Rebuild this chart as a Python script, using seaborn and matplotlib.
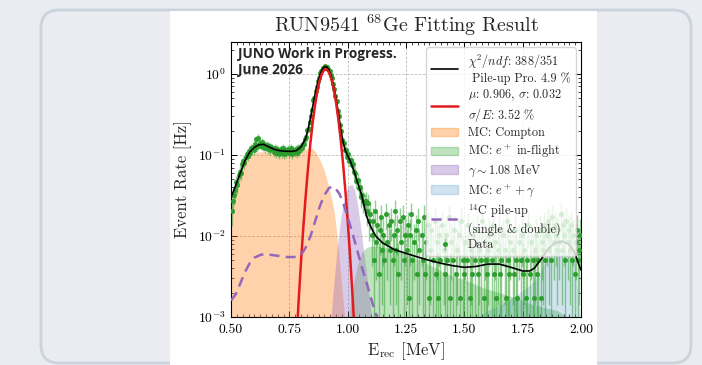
import numpy as np
import matplotlib
matplotlib.use("Agg")
import matplotlib.pyplot as plt
import seaborn as sns
from matplotlib.patches import FancyBboxPatch, Rectangle, Patch
from matplotlib.ticker import AutoMinorLocator, FormatStrFormatter, LogLocator, NullFormatter
from matplotlib.transforms import IdentityTransform

sns.set_theme(style="ticks")
plt.rcParams.update({
    "font.family": "serif",
    "font.serif": ["cmr10"],
    "mathtext.fontset": "cm",
    "axes.formatter.use_mathtext": True,
    "axes.unicode_minus": False,
})

# ---- data: histogram of E_rec (0.5 - 2.0 MeV, 300 bins of 5 keV) ----
bin_lo = 0.5
bin_width = 0.005
count_unit = 0.0017      # Hz per count
bkg_counts = 6           # subtracted background, enters the errors

data_counts = [
    12, 16, 19, 22, 27, 25, 33, 36, 35, 45,
    49, 47, 56, 60, 57, 66, 62, 72, 74, 68,
    80, 92, 73, 96, 82, 76, 85, 74, 80, 71,
    79, 70, 76, 67, 74, 72, 64, 71, 62, 70,
    66, 61, 69, 63, 72, 60, 67, 63, 70, 62,
    66, 71, 60, 68, 64, 69, 63, 71, 66, 74,
    72, 81, 80, 93, 98, 118, 124, 152, 176, 214,
    280, 300, 358, 405, 475, 522, 596, 632, 690, 705,
    735, 722, 718, 670, 648, 575, 524, 446, 388, 318,
    270, 208, 180, 138, 115, 90, 83, 68, 67, 56,
    60, 50, 51, 44, 45, 36, 35, 28, 29, 23,
    24, 18, 19, 16, 15, 16, 12, 15, 9, 11,
    6, 9, 3, 12, 5, 8, 2, 7, 10, 4,
    6, 3, 11, 5, 0, 8, 4, 9, 3, 6,
    12, 4, 7, 2, 9, 5, 0, 10, 3, 6,
    4, 8, 1, 6, 11, 3, 5, 0, 7, 2,
    9, 4, 0, 6, 3, 10, 2, 5, 8, 1,
    4, 7, 0, 3, 9, 2, 5, 1, 6, 3,
    8, 0, 4, 2, 6, 3, 10, 1, 5, 0,
    3, 7, 2, 4, 0, 6, 1, 9, 3, 2,
    5, 0, 3, 8, 1, 4, 2, 6, 0, 3,
    7, 2, 4, 0, 3, 9, 1, 5, 3, 2,
    4, 6, 0, 3, 8, 2, 5, 1, 4, 7,
    2, 3, 0, 6, 4, 1, 9, 3, 2, 5,
    0, 4, 2, 7, 3, 1, 5, 0, 3, 6,
    2, 4, 1, 3, 8, 0, 2, 5, 3, 1,
    4, 6, 2, 3, 7, 1, 5, 4, 8, 3,
    6, 9, 4, 7, 3, 10, 5, 8, 6, 4,
    7, 5, 11, 4, 8, 6, 3, 9, 5, 7,
    4, 8, 3, 6, 2, 5, 7, 3, 4, 6,
]

# ---- fit curves (E in MeV, rate in Hz) ----
total_E = [0.50, 0.52, 0.54, 0.56, 0.58, 0.60, 0.62, 0.64, 0.66, 0.68, 0.70, 0.72,
           0.74, 0.76, 0.78, 0.80, 0.82, 0.83, 0.84, 0.85, 0.86, 0.87, 0.88, 0.89,
           0.90, 0.91, 0.92, 0.93, 0.94, 0.95, 0.96, 0.97, 0.98, 0.99, 1.00, 1.01,
           1.02, 1.03, 1.04, 1.05, 1.06, 1.07, 1.08, 1.09, 1.10, 1.12, 1.15, 1.20,
           1.25, 1.30, 1.35, 1.40, 1.45, 1.50, 1.55, 1.60, 1.65, 1.70, 1.75, 1.78,
           1.80, 1.83, 1.86, 1.89, 1.92, 1.95, 1.97, 1.99, 2.00]
total_rate = [0.030, 0.042, 0.060, 0.085, 0.108, 0.124, 0.134, 0.135, 0.127, 0.119, 0.114, 0.112,
              0.111, 0.111, 0.113, 0.126, 0.160, 0.206, 0.280, 0.394, 0.555, 0.745, 0.957, 1.13,
              1.23, 1.225, 1.12, 0.933, 0.71, 0.50, 0.33, 0.21, 0.145, 0.113, 0.098, 0.086,
              0.072, 0.060, 0.048, 0.039, 0.032, 0.024, 0.018, 0.0150, 0.0128, 0.0100, 0.0082, 0.0068,
              0.0061, 0.0055, 0.0050, 0.0046, 0.0043, 0.0041, 0.0042, 0.0045, 0.0045, 0.0041, 0.0037, 0.0037,
              0.0040, 0.0052, 0.0070, 0.0082, 0.0086, 0.0078, 0.0065, 0.0045, 0.0038]

peak_E = [0.78, 0.79, 0.80, 0.81, 0.82, 0.83, 0.84, 0.85, 0.86, 0.87, 0.88, 0.89, 0.90,
          0.91, 0.92, 0.93, 0.94, 0.95, 0.96, 0.97, 0.98, 0.99, 1.00, 1.01, 1.02, 1.03]
peak_rate = [0.00049, 0.0016, 0.0048, 0.0128, 0.031, 0.0686, 0.137, 0.249, 0.41, 0.61, 0.83, 1.015, 1.13,
             1.14, 1.045, 0.868, 0.654, 0.447, 0.277, 0.156, 0.0795, 0.0367, 0.0154, 0.0059, 0.0020, 0.00063]

compton_E = [0.50, 0.52, 0.54, 0.56, 0.58, 0.60, 0.63, 0.66, 0.70, 0.74, 0.78, 0.81, 0.83,
             0.845, 0.86, 0.88, 0.90, 0.92, 0.94, 0.95, 0.96, 0.97, 0.98, 0.99, 1.00]
compton_rate = [0.030, 0.045, 0.065, 0.085, 0.098, 0.106, 0.110, 0.108, 0.105, 0.105, 0.108, 0.115, 0.121,
                0.122, 0.112, 0.088, 0.064, 0.040, 0.022, 0.013, 0.0068, 0.0033, 0.0016, 0.0008, 0.0004]

inflight_E = [1.00, 1.02, 1.04, 1.06, 1.08, 1.10, 1.15, 1.20, 1.25, 1.30, 1.35, 1.40, 1.45,
              1.50, 1.55, 1.60, 1.65, 1.70, 1.75, 1.80, 1.85, 1.90, 1.94, 1.97, 2.00]
inflight_rate = [0.0008, 0.0022, 0.0042, 0.0062, 0.0072, 0.0075, 0.0074, 0.0068, 0.0060, 0.0052, 0.0044, 0.0037, 0.0032,
                 0.0029, 0.0025, 0.0022, 0.0020, 0.0018, 0.0016, 0.0014, 0.0013, 0.0012, 0.0010, 0.0008, 0.0006]

gamma_E = [0.925, 0.93, 0.94, 0.95, 0.96, 0.97, 0.98, 0.99, 1.00, 1.01, 1.02, 1.03, 1.04,
           1.05, 1.06, 1.07, 1.08, 1.09, 1.10, 1.11]
gamma_rate = [0.0008, 0.0011, 0.0024, 0.0050, 0.0095, 0.016, 0.024, 0.032, 0.039, 0.043, 0.043, 0.037, 0.027,
              0.017, 0.0102, 0.0060, 0.0036, 0.0020, 0.0012, 0.0007]

epgamma_E = [1.54, 1.56, 1.60, 1.65, 1.70, 1.75, 1.78, 1.80, 1.82, 1.84, 1.86, 1.88, 1.92,
             1.95, 1.97, 1.98, 1.99, 2.00]
epgamma_rate = [0.0008, 0.0010, 0.0012, 0.0014, 0.0017, 0.0021, 0.0025, 0.0028, 0.0034, 0.0045, 0.0058, 0.0064, 0.0065,
                0.0064, 0.0050, 0.0032, 0.0016, 0.0008]

pileup_E = [0.50, 0.52, 0.54, 0.56, 0.58, 0.60, 0.63, 0.66, 0.70, 0.74, 0.78, 0.80, 0.82,
            0.84, 0.86, 0.88, 0.90, 0.92, 0.935, 0.95, 0.965, 0.98, 1.00, 1.02, 1.04, 1.06,
            1.08, 1.10, 1.12, 1.14]
pileup_rate = [0.0016, 0.0019, 0.0026, 0.0036, 0.0046, 0.0054, 0.0059, 0.0059, 0.0057, 0.0055, 0.0055, 0.0058, 0.0072,
               0.0098, 0.0150, 0.023, 0.032, 0.039, 0.041, 0.038, 0.033, 0.026, 0.017, 0.011, 0.0068, 0.0042,
               0.0027, 0.0017, 0.0011, 0.0007]

x_ticks = [0.50, 0.75, 1.00, 1.25, 1.50, 1.75, 2.00]

# ---- derived data table ----
counts = np.array(data_counts, dtype=float)
centers = bin_lo + bin_width * (np.arange(len(counts)) + 0.5)
rate = np.where(counts > 0, counts * count_unit, np.nan)
rate_err = np.sqrt(counts + bkg_counts) * count_unit

# ---- figure + page decoration ----
fig = plt.figure(figsize=(7.02, 3.65), dpi=100, facecolor="#e9ecf1")
card = FancyBboxPatch((41, 2), 650, 353, boxstyle="round,pad=0,rounding_size=18",
                      transform=IdentityTransform(), facecolor="#eaecf1",
                      edgecolor="#cbd3dc", linewidth=2.0, zorder=-3)
fig.patches.append(card)
panel = Rectangle((170, 0), 427, 354, transform=IdentityTransform(),
                  facecolor="white", edgecolor="none", zorder=-2)
fig.patches.append(panel)

ax = fig.add_axes([231 / 702, 48 / 365, 350 / 702, 275.3 / 365])
ax.set_yscale("log")

low = 1e-4
ax.fill_between(compton_E, low, compton_rate, color="#ff7f0e", alpha=0.35, lw=0, zorder=1)
ax.fill_between(inflight_E, low, inflight_rate, color="#2ca02c", alpha=0.3, lw=0, zorder=1)
ax.fill_between(gamma_E, low, gamma_rate, color="#9467bd", alpha=0.35, lw=0, zorder=1)
ax.fill_between(epgamma_E, low, epgamma_rate, color="#1f77b4", alpha=0.2, lw=0, zorder=1)

data_h = ax.errorbar(centers, rate, yerr=rate_err, fmt="o", ms=3.3, color="#2ca02c",
                     mec="#27952a", mew=0.3, ecolor=(0.17, 0.63, 0.17, 0.5),
                     elinewidth=1.0, zorder=3)
total_h, = ax.plot(total_E, total_rate, color="black", lw=1.2, zorder=4)
peak_h, = ax.plot(peak_E, peak_rate, color="#e41a1c", lw=1.8, zorder=4)
pileup_h, = ax.plot(pileup_E, pileup_rate, color="#9467bd", lw=1.8, ls=(0, (4, 2.5)), zorder=4)

ax.set_xlim(0.5, 2.0)
ax.set_ylim(1e-3, 2.5)
ax.set_xticks(x_ticks)
ax.xaxis.set_major_formatter(FormatStrFormatter("%.2f"))
ax.xaxis.set_minor_locator(AutoMinorLocator(10))
ax.yaxis.set_major_locator(LogLocator(base=10, numticks=10))
ax.yaxis.set_minor_locator(LogLocator(base=10, subs=np.arange(2, 10), numticks=10))
ax.yaxis.set_minor_formatter(NullFormatter())
ax.tick_params(which="both", direction="in", top=True, right=True, labelsize=9.8, colors="black")
ax.tick_params(which="major", length=4, width=0.7)
ax.tick_params(which="minor", length=2, width=0.5)
ax.tick_params(axis="x", pad=5)
ax.tick_params(axis="y", pad=4)
ax.grid(True, which="major", color="#b8b8b8", ls=(0, (3, 2)), lw=0.6)
for s in ax.spines.values():
    s.set_linewidth(0.8)
    s.set_color("black")

ax.set_title(r"RUN9541 $^{68}$Ge Fitting Result", fontsize=14.5, pad=7)
ax.set_xlabel(r"E$_{\rm rec}$ [MeV]", fontsize=12, labelpad=3)
ax.set_ylabel("Event Rate [Hz]", fontsize=12, labelpad=4)

ax.text(0.02, 0.98, "JUNO Work in Progress.\nJune 2026", transform=ax.transAxes,
        ha="left", va="top", fontsize=9.8, fontweight="bold", family="Open Sans",
        linespacing=1.2, zorder=6)

handles = [
    total_h,
    peak_h,
    Patch(facecolor="#ff7f0e", alpha=0.35, edgecolor="#ff7f0e"),
    Patch(facecolor="#2ca02c", alpha=0.3, edgecolor="#2ca02c"),
    Patch(facecolor="#9467bd", alpha=0.35, edgecolor="#9467bd"),
    Patch(facecolor="#1f77b4", alpha=0.2, edgecolor="#1f77b4"),
    pileup_h,
    data_h,
]
labels = [
    "$\\chi^2/ndf$: 388/351\n Pile-up Pro. 4.9 %",
    "$\\mu$: 0.906, $\\sigma$: 0.032\n$\\sigma/E$: 3.52 %",
    "MC: Compton",
    "MC: $e^+$ in-flight",
    "$\\gamma\\sim$1.08 MeV",
    "MC: $e^+ + \\gamma$",
    "$^{14}$C pile-up\n(single & double)",
    "Data",
]
leg = ax.legend(handles, labels, loc="upper right", fontsize=8.8, frameon=True,
                framealpha=0.8, fancybox=True, edgecolor="#cccccc",
                handlelength=2.2, handletextpad=0.8, labelspacing=0.28,
                borderpad=0.4, borderaxespad=0.45)
leg.set_zorder(5)

fig.savefig("out.png", dpi=100, facecolor=fig.get_facecolor())
